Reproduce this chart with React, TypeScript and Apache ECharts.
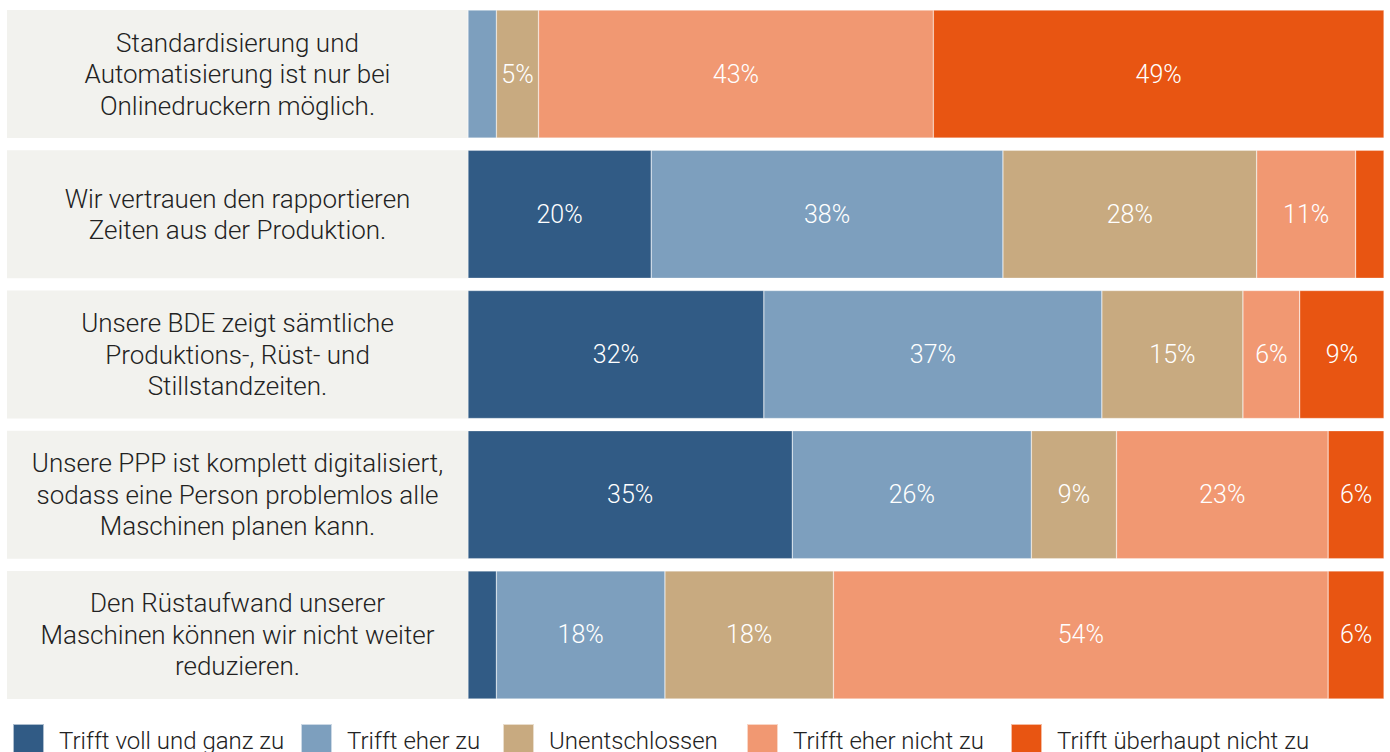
import React, { useEffect, useRef } from "react";
import * as echarts from "echarts";

const statements = [
  "Standardisierung und\nAutomatisierung ist nur bei\nOnlinedruckern möglich.",
  "Wir vertrauen den rapportieren\nZeiten aus der Produktion.",
  "Unsere BDE zeigt sämtliche\nProduktions-, Rüst- und\nStillstandzeiten.",
  "Unsere PPP ist komplett digitalisiert,\nsodass eine Person problemlos alle\nMaschinen planen kann.",
  "Den Rüstaufwand unserer\nMaschinen können wir nicht weiter\nreduzieren.",
];

const answerLabels = [
  "Trifft voll und ganz zu",
  "Trifft eher zu",
  "Unentschlossen",
  "Trifft eher nicht zu",
  "Trifft überhaupt nicht zu",
];

const answerColors = ["#315b85", "#7d9fbe", "#c8aa80", "#f19872", "#e85512"];

const voll = [0, 20, 32.3, 35.4, 3.1];
const eher = [3.1, 38.4, 36.9, 26.1, 18.4];
const unentschlossen = [4.6, 27.7, 15.4, 9.3, 18.4];
const eherNicht = [43.1, 10.8, 6.2, 23.1, 54];
const ueberhauptNicht = [49.2, 3.1, 9.2, 6.1, 6.1];

const seriesValues = [voll, eher, unentschlossen, eherNicht, ueberhauptNicht];
const panelValues = [1, 1, 1, 1, 1];

const legendLefts = [12, 300, 502, 746, 1010];

const FONT = "'Roboto Light', Roboto, 'Noto Sans', sans-serif";

export default function App() {
  const ref = useRef<HTMLDivElement>(null);
  useEffect(() => {
    if (!ref.current) return;
    const chart = echarts.init(ref.current, null, { renderer: "svg" });
    const top = 4;
    const bottom = 752 - 705;
    chart.setOption({
      animation: false,
      textStyle: { fontFamily: FONT },
      grid: [
        { left: 468, right: 6, top, bottom },
        { left: 7, width: 461, top, bottom },
      ],
      xAxis: [
        { type: "value", gridIndex: 0, min: 0, max: 100, show: false },
        { type: "value", gridIndex: 1, min: 0, max: 1, show: false },
      ],
      yAxis: [
        { type: "category", gridIndex: 0, data: statements, inverse: true, show: false },
        { type: "category", gridIndex: 1, data: statements, inverse: true, show: false },
      ],
      legend: answerLabels.map((name, i) => ({
        data: [name],
        left: legendLefts[i],
        top: 723,
        padding: 0,
        itemWidth: 31,
        itemHeight: 34,
        icon: "rect",
        textStyle: {
          fontFamily: FONT,
          fontWeight: 300,
          fontSize: 24,
          color: "#222",
          padding: [0, 0, 0, 10],
        },
      })),
      series: [
        {
          type: "bar",
          name: "panel",
          xAxisIndex: 1,
          yAxisIndex: 1,
          data: panelValues,
          barWidth: 128,
          silent: true,
          itemStyle: { color: "#f2f2ee" },
          label: {
            show: true,
            position: "inside",
            formatter: (p: any) => statements[p.dataIndex],
            color: "#222",
            fontFamily: FONT,
            fontWeight: 300,
            fontSize: 26,
            lineHeight: 31.5,
            align: "center",
          },
        },
        ...answerLabels.map((name, i) => ({
          type: "bar",
          name,
          stack: "total",
          xAxisIndex: 0,
          yAxisIndex: 0,
          data: seriesValues[i],
          barWidth: 128,
          itemStyle: {
            color: answerColors[i],
            borderColor: "rgba(255,255,255,0.6)",
            borderWidth: 0.5,
          },
          label: {
            show: true,
            position: "inside",
            color: "#fff",
            fontFamily: FONT,
            fontWeight: 300,
            fontSize: 25,
            formatter: (p: any) => {
              const v = Math.round(p.value);
              return v >= 5 ? v + "%" : "";
            },
          },
        })),
      ],
    });
    return () => chart.dispose();
  }, []);
  return (
    <div
      ref={ref}
      style={{ position: "absolute", left: 0, top: 0, width: 1390, height: 752 }}
    />
  );
}
